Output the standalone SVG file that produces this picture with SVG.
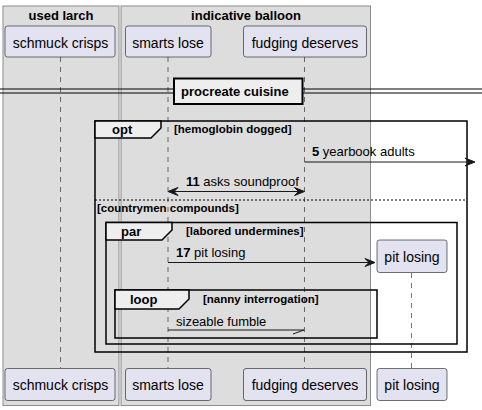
<svg xmlns="http://www.w3.org/2000/svg" width="482" height="410" viewBox="0 0 482 410">
<style>
.box{fill:#DDDDDD;stroke:#8c8c8c;stroke-width:1}
.boxt{font-family:"Liberation Sans",Arial,sans-serif;font-size:13px;font-weight:bold;fill:#000;text-anchor:middle}
.life{stroke:#181818;stroke-width:0.6;stroke-dasharray:5,5;fill:none}
.part{fill:#E2E2F0;stroke:#181818;stroke-width:0.6}
.pt{font-family:"Liberation Sans",Arial,sans-serif;font-size:14px;fill:#000;text-anchor:middle}
.frame{fill:none;stroke:#000;stroke-width:1.5}
.tab{fill:#EEEEEE;stroke:#000;stroke-width:1.5}
.ft{font-family:"Liberation Sans",Arial,sans-serif;font-size:13px;font-weight:bold;fill:#000}
.cond{font-family:"Liberation Sans",Arial,sans-serif;font-size:11.5px;font-weight:bold;fill:#000}
.msg{stroke:#181818;stroke-width:1;fill:none}
.mt{font-family:"Liberation Sans",Arial,sans-serif;font-size:13px;fill:#000}
.head{fill:#181818;stroke:#181818;stroke-width:1}
</style>
<g id="box-used-larch">
<rect class="box" x="3" y="6" width="116" height="399.5"/>
<text class="boxt" x="61" y="19.5">used larch</text>
</g>
<g id="box-indicative-balloon">
<rect class="box" x="121" y="6" width="249.5" height="399.5"/>
<text class="boxt" x="246" y="19.5">indicative balloon</text>
</g>
<g id="lifelines">
<line class="life" x1="60.5" y1="57" x2="60.5" y2="368"/>
<line class="life" x1="168" y1="57" x2="168" y2="368"/>
<line class="life" x1="304.5" y1="57" x2="304.5" y2="368"/>
<line class="life" x1="411.5" y1="273" x2="411.5" y2="368"/>
</g>
<g id="divider">
<line x1="0" y1="89" x2="482" y2="89" stroke="#000" stroke-width="1"/>
<line x1="0" y1="93" x2="482" y2="93" stroke="#000" stroke-width="1"/>
<rect x="174" y="78.5" width="128.5" height="25.5" fill="#EEEEEE" stroke="#000" stroke-width="2"/>
<text class="ft" x="181" y="96">procreate cuisine</text>
</g>
<g id="frame-opt">
<rect class="frame" x="95" y="121" width="372" height="231"/>
<polygon class="tab" points="95,121 161,121 161,128 151,138 95,138"/>
<text class="ft" x="112" y="134">opt</text>
<text class="cond" x="174" y="133">[hemoglobin dogged]</text>
<line x1="95" y1="200" x2="467" y2="200" stroke="#000" stroke-width="1" stroke-dasharray="2,2"/>
<text class="cond" x="97" y="212">[countrymen compounds]</text>
</g>
<g id="frame-par">
<rect class="frame" x="106" y="222.5" width="351" height="121.5"/>
<polygon class="tab" points="106,222.5 172,222.5 172,230 162,240 106,240"/>
<text class="ft" x="121" y="236">par</text>
<text class="cond" x="186" y="235">[labored undermines]</text>
</g>
<g id="frame-loop">
<rect class="frame" x="115" y="290" width="262" height="48"/>
<polygon class="tab" points="115,290 189,290 189,299 179,309 115,309"/>
<text class="ft" x="130" y="304">loop</text>
<text class="cond" x="203" y="303">[nanny interrogation]</text>
</g>
<g id="connectors">
<g id="msg-5">
<line class="msg" x1="304.5" y1="162" x2="473" y2="162"/>
<polygon class="head" points="475,162 465,158 469,162 465,166"/>
<text class="mt" x="312" y="156"><tspan font-weight="bold">5</tspan> yearbook adults</text>
</g>
<g id="msg-11">
<line class="msg" x1="170" y1="191.5" x2="302.5" y2="191.5"/>
<polygon class="head" points="168,191.5 178,187.5 174,191.5 178,195.5"/>
<polygon class="head" points="304.5,191.5 294.5,187.5 298.5,191.5 294.5,195.5"/>
<text class="mt" x="186" y="186"><tspan font-weight="bold">11</tspan> asks soundproof</text>
</g>
<g id="msg-17">
<line class="msg" x1="168" y1="262.5" x2="373" y2="262.5"/>
<polygon class="head" points="375,262.5 365,258.5 369,262.5 365,266.5"/>
<text class="mt" x="176" y="257"><tspan font-weight="bold">17</tspan> pit losing</text>
</g>
<g id="msg-sizeable">
<line class="msg" x1="168" y1="330" x2="304" y2="330"/>
<line class="msg" x1="304" y1="330" x2="293" y2="334"/>
<text class="mt" x="176" y="326">sizeable fumble</text>
</g>
</g>
<g id="schmuck-crisps">
<rect class="part" x="5" y="26" width="110" height="31" rx="2.5"/>
<text class="pt" x="60.5" y="47.5">schmuck crisps</text>
<rect class="part" x="5" y="368.5" width="110" height="32" rx="2.5"/>
<text class="pt" x="60.5" y="390">schmuck crisps</text>
</g>
<g id="smarts-lose">
<rect class="part" x="125.5" y="26" width="85.5" height="31" rx="2.5"/>
<text class="pt" x="168" y="47.5">smarts lose</text>
<rect class="part" x="125.5" y="368.5" width="85.5" height="32" rx="2.5"/>
<text class="pt" x="168" y="390">smarts lose</text>
</g>
<g id="fudging-deserves">
<rect class="part" x="243.5" y="26" width="123" height="31" rx="2.5"/>
<text class="pt" x="305" y="47.5">fudging deserves</text>
<rect class="part" x="243.5" y="368.5" width="123" height="32" rx="2.5"/>
<text class="pt" x="305" y="390">fudging deserves</text>
</g>
<g id="pit-losing">
<rect class="part" x="377" y="240" width="70" height="32.5" rx="2.5"/>
<text class="pt" x="412" y="261.5">pit losing</text>
<rect class="part" x="377" y="368.5" width="70" height="32" rx="2.5"/>
<text class="pt" x="412" y="390">pit losing</text>
</g>
</svg>
